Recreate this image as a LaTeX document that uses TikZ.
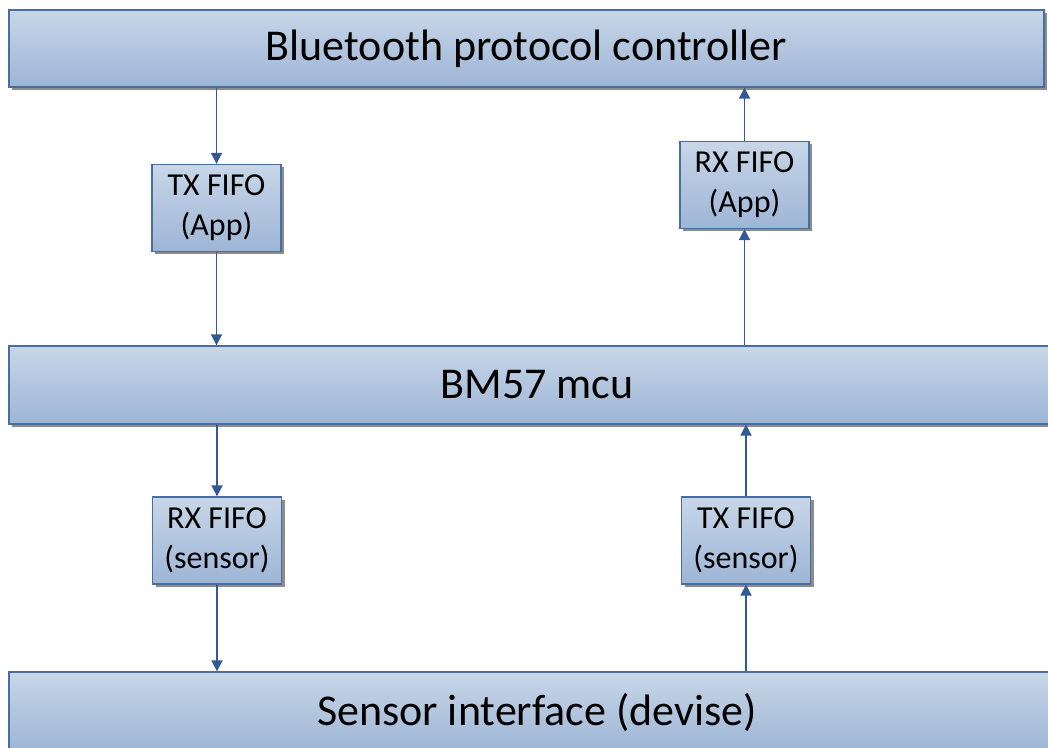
\documentclass[tikz,border=0pt]{standalone}
\usepackage{fontspec}
\setmainfont{Carlito}
\usetikzlibrary{arrows.meta, shadows}
\definecolor{boxtop}{RGB}{200,214,232}
\definecolor{boxbot}{RGB}{157,181,213}
\definecolor{boxline}{RGB}{72,110,160}
\definecolor{arrline}{RGB}{48,90,150}
\tikzset{
    blockbox/.style={rectangle, draw=boxline, line width=1.3pt, top color=boxtop, bottom color=boxbot, inner sep=0pt,
        drop shadow={shadow xshift=3pt, shadow yshift=-3pt, fill=black!45, opacity=1}},
    layerbox/.style={blockbox, font=\fontsize{44}{48}\selectfont},
    fifobox/.style={blockbox, minimum width=129pt, minimum height=87pt, align=center, font=\fontsize{32}{40}\selectfont},
    flow/.style={draw=arrline, line width=1.8pt, -{Triangle[length=11pt, width=11pt]}}
}
\begin{document}
\begin{tikzpicture}[x=1pt, y=1pt]
    \useasboundingbox (0,0) rectangle (1048,747);
    % three layers
    \node[layerbox, minimum width=1035pt, minimum height=77pt] (bt) at (526.5,698.5) {Bluetooth protocol controller};
    \node[layerbox, minimum width=1056pt, minimum height=78pt] (mcu) at (537,362) {BM57 mcu};
    \node[layerbox, minimum width=1056pt, minimum height=80pt] (sensor) at (537,35) {Sensor interface (devise)};
    % fifos
    \node[fifobox] (txapp) at (216.5,539) {TX FIFO\\(App)};
    \node[fifobox] (rxapp) at (744.5,562) {RX FIFO\\(App)};
    \node[fifobox] (rxsens) at (217,206.5) {RX FIFO\\(sensor)};
    \node[fifobox] (txsens) at (746,206.5) {TX FIFO\\(sensor)};
    % data flow
    \draw[flow] (txapp.north |- bt.south) -- (txapp.north);
    \draw[flow] (txapp.south) -- (txapp.south |- mcu.north);
    \draw[flow] (rxapp.south |- mcu.north) -- (rxapp.south);
    \draw[flow] (rxapp.north) -- (rxapp.north |- bt.south);
    \draw[flow] (rxsens.north |- mcu.south) -- (rxsens.north);
    \draw[flow] (rxsens.south) -- (rxsens.south |- sensor.north);
    \draw[flow] (txsens.south |- sensor.north) -- (txsens.south);
    \draw[flow] (txsens.north) -- (txsens.north |- mcu.south);
\end{tikzpicture}
\end{document}
